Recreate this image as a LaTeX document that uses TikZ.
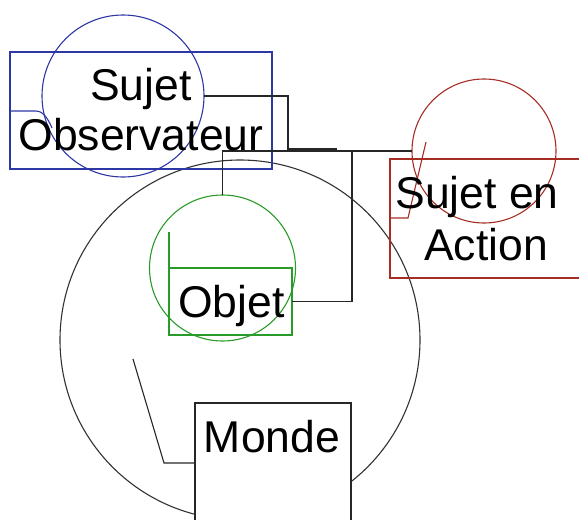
\documentclass[tikz,border=0pt]{standalone}
\usepackage{fontspec}
\setmainfont{Liberation Sans}
\definecolor{cblue}{RGB}{45,55,165}
\definecolor{cred}{RGB}{165,45,35}
\definecolor{cgreen}{RGB}{40,155,40}
\begin{document}
\begin{tikzpicture}[x=1pt,y=-1pt,line width=1.1pt,
  shapebox/.style={draw,rectangle,inner sep=0pt,outer sep=0pt},
  ring/.style={draw,circle,inner sep=0pt,outer sep=0pt},
  lbl/.style={anchor=base,inner sep=0pt,font=\fontsize{44.5}{50}\selectfont},
  link/.style={draw=black!85,line width=1.1pt}]
\useasboundingbox (0,0) rectangle (579,520);
\clip (0,0) rectangle (579,520);
% big world circle
\node[ring,draw=black!80,minimum size=360pt] (world) at (240,340) {};
% Monde box
\node[shapebox,draw=black!85,fill=white,minimum width=156pt,minimum height=137pt] (mbox) at (273,471.5) {};
% blue
\node[shapebox,draw=cblue,minimum width=262pt,minimum height=117pt] (bbox) at (141,110.5) {};
\node[ring,draw=cblue,minimum size=162pt] (bc) at (123,96) {};
% red
\node[shapebox,draw=cred,minimum width=190pt,minimum height=119pt] (rbox) at (485,218.5) {};
\node[ring,draw=cred,minimum size=144pt] (rc) at (484,151) {};
% green
\node[ring,draw=cgreen,minimum size=146pt] (gc) at (222.5,268) {};
\node[shapebox,draw=cgreen,minimum width=123pt,minimum height=67pt] (gbox) at (230.5,301.5) {};
% pointers
\coordinate (bp1) at (10,111);
\coordinate (bp2) at (36,111);
\coordinate (bp3) at (52,128);
\draw[cblue] (bp1) -- (bp2) .. controls (44,111) and (49,121) .. (bp3);
\coordinate (rp1) at (390,218);
\coordinate (rp2) at (408,218);
\coordinate (rp3) at (426,142);
\draw[cred] (rp1) -- (rp2) -- (rp3);
\coordinate (gp1) at (169,232);
\coordinate (gp2) at (169,268);
\draw[cgreen] (gp1) -- (gp2);
\coordinate (mp1) at (133,359);
\coordinate (mp2) at (164,463);
\coordinate (mp3) at (195,463);
\draw[black!85] (mp1) -- (mp2) -- (mp3);
% connectors
\coordinate (j1) at (288,96);
\coordinate (j2) at (288,149);
\coordinate (j3) at (337,149);
\draw[link] (bc.east) -- (j1) -- (j2) -- (j3);
\draw[link] (gc.north) |- (rc.west);
\coordinate (j4) at (352,301.5);
\coordinate (j5) at (352,151);
\draw[link] (gbox.east) -- (j4) -- (j5);
% texts
\node[lbl] (t1) at (141,100) {Sujet};
\node[lbl] (t2) at (141,150) {Observateur};
\node[lbl] (t3) at (477,208) {Sujet en};
\node[lbl] (t4) at (486,260) {Action};
\node[lbl] (t5) at (231.5,317) {Objet};
\node[lbl] (t6) at (272,452) {Monde};
\end{tikzpicture}
\end{document}
